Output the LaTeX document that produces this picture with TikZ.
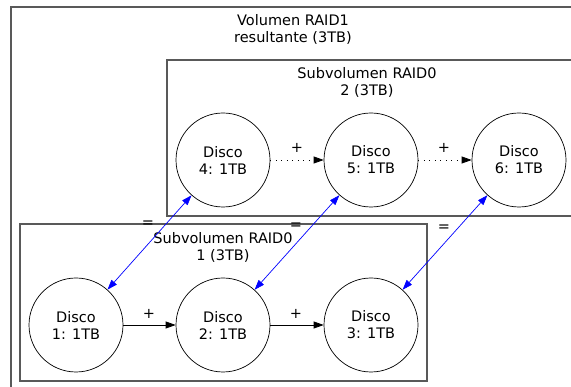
\documentclass[tikz,border=0pt]{standalone}
\usepackage{fontspec}
\setmainfont{DejaVu Sans}
\usetikzlibrary{arrows.meta}
\begin{document}
\begin{tikzpicture}[x=1pt,y=-1pt,
  disk/.style={circle,draw=black,line width=0.7pt,minimum size=94pt,inner sep=0pt,align=center,font=\fontsize{14.5}{17}\selectfont},
  group/.style={draw=black!65,line width=1.1pt},
  lbl/.style={align=center,font=\fontsize{14.5}{17}\selectfont,inner sep=0pt},
  plus/.style={-{Triangle[length=10pt,width=7pt]},line width=0.7pt},
  dotplus/.style={plus,dash pattern=on 1pt off 4.5pt},
  mirror/.style={{Triangle[length=10pt,width=7pt]}-{Triangle[length=10pt,width=7pt]},draw=blue,line width=0.7pt}
]
\useasboundingbox (0,0) rectangle (571,387);
\fill[white] (0,0) rectangle (571,387);
\clip (0,0) rectangle (571,387);
% boxes
\draw[group] (11,7) rectangle (590,400);
\draw[group] (167,60) rectangle (590,216);
\draw[group] (20,224) rectangle (427,381);
% titles
\node[lbl] (t0) at (293,29) {Volumen RAID1\\resultante (3TB)};
\node[lbl] (t2) at (367,82) {Subvolumen RAID0\\2 (3TB)};
\node[lbl] (t1) at (223,247) {Subvolumen RAID0\\1 (3TB)};
% disks
\node[disk] (d1) at (76,325) {Disco\\1: 1TB};
\node[disk] (d2) at (223,325) {Disco\\2: 1TB};
\node[disk] (d3) at (371,325) {Disco\\3: 1TB};
\node[disk] (d4) at (223,160) {Disco\\4: 1TB};
\node[disk] (d5) at (371,160) {Disco\\5: 1TB};
\node[disk] (d6) at (519,160) {Disco\\6: 1TB};
% edges
\draw[plus] (d1) -- (d2);
\draw[plus] (d2) -- (d3);
\draw[dotplus] (d4) -- (d5);
\draw[dotplus] (d5) -- (d6);
\draw[mirror] (d1) -- (d4);
\draw[mirror] (d2) -- (d5);
\draw[mirror] (d3) -- (d6);
% edge labels
\node[lbl] (p1) at (149,314) {+};
\node[lbl] (p2) at (296,314) {+};
\node[lbl] (p3) at (297,148) {+};
\node[lbl] (p4) at (444,148) {+};
\node[lbl] (e1) at (148,224) {=};
\node[lbl] (e2) at (296,226) {=};
\node[lbl] (e3) at (444,228) {=};
\end{tikzpicture}
\end{document}
